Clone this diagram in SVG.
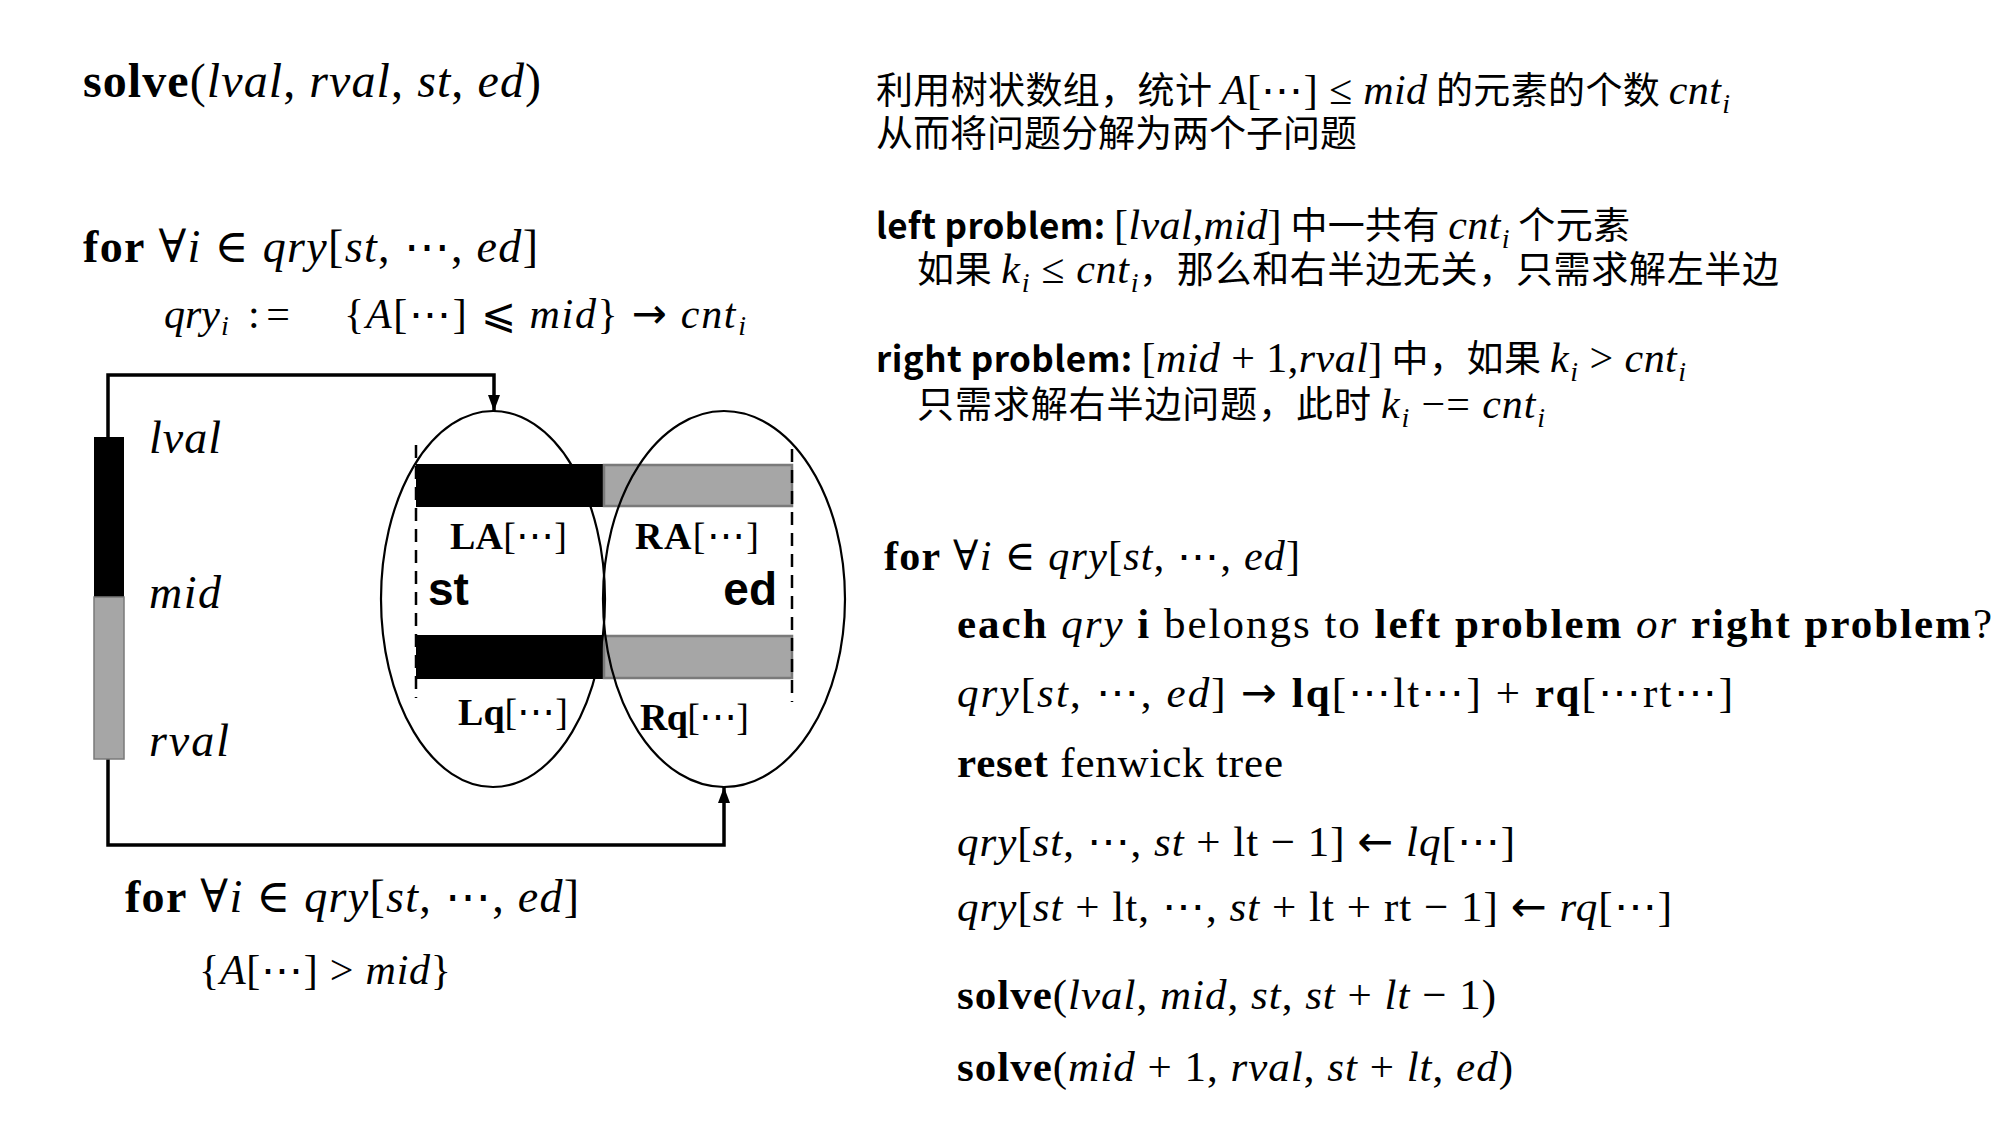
<svg xmlns="http://www.w3.org/2000/svg" width="2000" height="1125" viewBox="0 0 2000 1125">
<defs>
<style>
.m{font-family:"Liberation Serif","DejaVu Serif",serif;fill:#000}
.i{font-style:italic}
.b{font-weight:bold}
.ar{font-family:"DejaVu Sans",sans-serif;font-style:normal;font-weight:normal}
.cjk{font-family:"Noto Sans CJK SC","Noto Sans",sans-serif;fill:#000}
.cm{font-family:"Liberation Serif","DejaVu Serif",serif;font-style:italic;font-size:42px}
.cu{font-family:"Liberation Serif","DejaVu Serif",serif;font-style:normal;font-size:42px}
.cs{font-family:"Liberation Serif","DejaVu Serif",serif;font-style:italic;font-size:28px}
.sf{font-family:"Liberation Sans","DejaVu Sans",sans-serif;font-weight:bold}
.conn{fill:none;stroke:#000;stroke-width:3.5}
.ell{fill:none;stroke:#000;stroke-width:2.2}
.blk{fill:#000}
.gry{fill:#a6a6a6;stroke:#7a7a7a;stroke-width:2.5}
.dash{stroke:#000;stroke-width:2.5;stroke-dasharray:13 8;fill:none}
</style>
<marker id="arr" viewBox="0 0 16 12" refX="16" refY="6" markerWidth="16" markerHeight="12" markerUnits="userSpaceOnUse" orient="auto">
<path d="M0,0 L16,6 L0,12 z" fill="#000"/>
</marker>
</defs>
<rect width="2000" height="1125" fill="#fff"/>

<!-- left column text -->
<g id="title">
<text class="m" x="83" y="97" font-size="48" textLength="458" lengthAdjust="spacing"><tspan class="b">solve</tspan>(<tspan class="i">lval</tspan>, <tspan class="i">rval</tspan>, <tspan class="i">st</tspan>, <tspan class="i">ed</tspan>)</text>
</g>
<g id="loop-le">
<text class="m" x="83" y="262" font-size="46" textLength="455" lengthAdjust="spacing"><tspan class="b">for</tspan> ∀<tspan class="i">i</tspan> ∈ <tspan class="i">qry</tspan>[<tspan class="i">st</tspan>, ⋯, <tspan class="i">ed</tspan>]</text>
<text class="m" x="164" y="328" font-size="42"><tspan class="i">qry</tspan><tspan class="i" font-size="28" dx="1" dy="7">i</tspan></text>
<text class="m" x="248" y="328" font-size="42" textLength="42" lengthAdjust="spacing">:=</text>
<text class="m" x="344" y="328" font-size="42" textLength="402" lengthAdjust="spacing">{<tspan class="i">A</tspan>[⋯] ⩽ <tspan class="i">mid</tspan>} <tspan class="ar">→</tspan> <tspan class="i">cnt</tspan><tspan class="i" font-size="28" dx="1" dy="7">i</tspan></text>
</g>
<g id="loop-gt">
<text class="m" x="125" y="912" font-size="46" textLength="454" lengthAdjust="spacing"><tspan class="b">for</tspan> ∀<tspan class="i">i</tspan> ∈ <tspan class="i">qry</tspan>[<tspan class="i">st</tspan>, ⋯, <tspan class="i">ed</tspan>]</text>
<text class="m" x="199" y="984" font-size="42" textLength="252" lengthAdjust="spacing">{<tspan class="i">A</tspan>[⋯] &gt; <tspan class="i">mid</tspan>}</text>
</g>

<!-- connectors -->
<g id="connectors">
<path class="conn" d="M108,437 V375 H494 V411" marker-end="url(#arr)"/>
<path class="conn" d="M108,759 V845 H724 V787" marker-end="url(#arr)"/>
</g>

<!-- value range bar -->
<g id="value-bar">
<rect class="blk" x="94" y="437" width="30" height="160"/>
<rect x="94" y="597" width="30" height="162" fill="#a6a6a6" stroke="#7a7a7a" stroke-width="1.5"/>
<text class="m i" x="149" y="453" font-size="46" textLength="72" lengthAdjust="spacing">lval</text>
<text class="m i" x="149" y="608" font-size="46" textLength="72" lengthAdjust="spacing">mid</text>
<text class="m i" x="149" y="756" font-size="46" textLength="80" lengthAdjust="spacing">rval</text>
</g>

<!-- arrays -->
<g id="array-A">
<rect class="blk" x="416" y="464" width="188" height="43"/>
<rect class="gry" x="604" y="465" width="188" height="41"/>
<text class="m" x="450" y="549" font-size="38" textLength="117" lengthAdjust="spacing"><tspan class="b">LA</tspan>[⋯]</text>
<text class="m" x="635" y="549" font-size="38" textLength="124" lengthAdjust="spacing"><tspan class="b">RA</tspan>[⋯]</text>
</g>
<g id="array-q">
<rect class="blk" x="416" y="635" width="188" height="44"/>
<rect class="gry" x="604" y="636" width="188" height="42"/>
<text class="m" x="458" y="725" font-size="38" textLength="110" lengthAdjust="spacing"><tspan class="b">Lq</tspan>[⋯]</text>
<text class="m" x="640" y="730" font-size="38" textLength="109" lengthAdjust="spacing"><tspan class="b">Rq</tspan>[⋯]</text>
</g>
<g id="bounds">
<line class="dash" x1="416" y1="445" x2="416" y2="698"/>
<line class="dash" x1="792" y1="449" x2="792" y2="702"/>
<text class="sf" x="428" y="605" font-size="46">st</text>
<text class="sf" x="777" y="605" font-size="46" text-anchor="end">ed</text>
</g>
<g id="left-set"><ellipse class="ell" cx="493" cy="599" rx="112" ry="188"/></g>
<g id="right-set"><ellipse class="ell" cx="724" cy="599" rx="121" ry="188"/></g>

<!-- right top explanation -->
<g id="explain">
<text class="cjk" x="876" y="104" font-size="37" textLength="854" lengthAdjust="spacing">利用树状数组，统计 <tspan class="cm">A</tspan><tspan class="cu">[⋯] ≤ </tspan><tspan class="cm">mid</tspan> 的元素的个数 <tspan class="cm">cnt</tspan><tspan class="cs" dx="1" dy="9">i</tspan></text>
<text class="cjk" x="876" y="147" font-size="37">从而将问题分解为两个子问题</text>
</g>
<g id="left-problem">
<text class="cjk" x="876" y="239" font-size="37" textLength="754" lengthAdjust="spacing"><tspan class="b" font-size="35">left problem:</tspan> <tspan class="cu">[</tspan><tspan class="cm">lval</tspan><tspan class="cu">,</tspan><tspan class="cm">mid</tspan><tspan class="cu">]</tspan> 中一共有 <tspan class="cm">cnt</tspan><tspan class="cs" dx="1" dy="9">i</tspan><tspan dy="-9"> 个元素</tspan></text>
<text class="cjk" x="917" y="283" font-size="37" textLength="862" lengthAdjust="spacing">如果 <tspan class="cm">k</tspan><tspan class="cs" dx="1" dy="9">i</tspan><tspan class="cu" dy="-9"> ≤ </tspan><tspan class="cm">cnt</tspan><tspan class="cs" dx="1" dy="9">i</tspan><tspan dy="-9">，那么和右半边无关，只需求解左半边</tspan></text>
</g>
<g id="right-problem">
<text class="cjk" x="876" y="372" font-size="37" textLength="810" lengthAdjust="spacing"><tspan class="b" font-size="35">right problem:</tspan> <tspan class="cu">[</tspan><tspan class="cm">mid</tspan><tspan class="cu"> + 1,</tspan><tspan class="cm">rval</tspan><tspan class="cu">]</tspan> 中，如果 <tspan class="cm">k</tspan><tspan class="cs" dx="1" dy="9">i</tspan><tspan class="cu" dy="-9"> &gt; </tspan><tspan class="cm">cnt</tspan><tspan class="cs" dx="1" dy="9">i</tspan></text>
<text class="cjk" x="917" y="418" font-size="37" textLength="628" lengthAdjust="spacing">只需求解右半边问题，此时 <tspan class="cm">k</tspan><tspan class="cs" dx="1" dy="9">i</tspan><tspan class="cu" dy="-9"> −= </tspan><tspan class="cm">cnt</tspan><tspan class="cs" dx="1" dy="9">i</tspan></text>
</g>

<!-- right bottom algorithm -->
<g id="algorithm">
<text class="m" x="884" y="570" font-size="42" textLength="416" lengthAdjust="spacing"><tspan class="b">for</tspan> ∀<tspan class="i">i</tspan> ∈ <tspan class="i">qry</tspan>[<tspan class="i">st</tspan>, ⋯, <tspan class="i">ed</tspan>]</text>
<text class="m" x="957" y="638" font-size="43" textLength="1035" lengthAdjust="spacing"><tspan class="b">each</tspan> <tspan class="i">qry</tspan> <tspan class="b">i</tspan> belongs to <tspan class="b">left problem</tspan> <tspan class="i">or</tspan> <tspan class="b">right problem</tspan>?</text>
<text class="m" x="957" y="707" font-size="43" textLength="776" lengthAdjust="spacing"><tspan class="i">qry</tspan>[<tspan class="i">st</tspan>, ⋯, <tspan class="i">ed</tspan>] <tspan class="ar">→</tspan> <tspan class="b">lq</tspan>[⋯lt⋯] + <tspan class="b">rq</tspan>[⋯rt⋯]</text>
<text class="m" x="957" y="777" font-size="43" textLength="326" lengthAdjust="spacing"><tspan class="b">reset</tspan> fenwick tree</text>
<text class="m" x="957" y="856" font-size="43" textLength="558" lengthAdjust="spacing"><tspan class="i">qry</tspan>[<tspan class="i">st</tspan>, ⋯, <tspan class="i">st</tspan> + lt − 1] <tspan class="ar">←</tspan> <tspan class="i">lq</tspan>[⋯]</text>
<text class="m" x="957" y="921" font-size="43" textLength="715" lengthAdjust="spacing"><tspan class="i">qry</tspan>[<tspan class="i">st</tspan> + lt, ⋯, <tspan class="i">st</tspan> + lt + rt − 1] <tspan class="ar">←</tspan> <tspan class="i">rq</tspan>[⋯]</text>
<text class="m" x="957" y="1009" font-size="43" textLength="539" lengthAdjust="spacing"><tspan class="b">solve</tspan>(<tspan class="i">lval</tspan>, <tspan class="i">mid</tspan>, <tspan class="i">st</tspan>, <tspan class="i">st</tspan> + <tspan class="i">lt</tspan> − 1)</text>
<text class="m" x="957" y="1081" font-size="43" textLength="556" lengthAdjust="spacing"><tspan class="b">solve</tspan>(<tspan class="i">mid</tspan> + 1, <tspan class="i">rval</tspan>, <tspan class="i">st</tspan> + <tspan class="i">lt</tspan>, <tspan class="i">ed</tspan>)</text>
</g>
</svg>
